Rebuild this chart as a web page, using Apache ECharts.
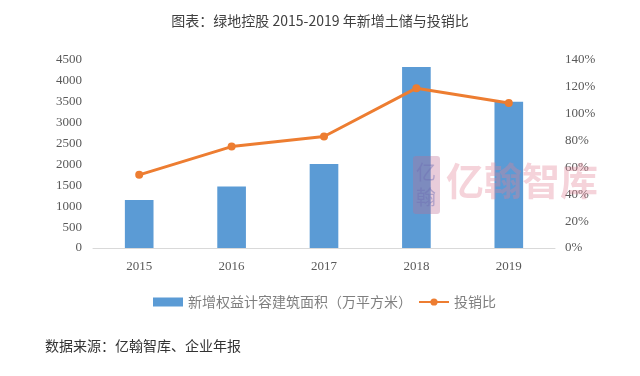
<!DOCTYPE html>
<html>
<head>
<meta charset="utf-8">
<script src="https://cdn.jsdelivr.net/npm/echarts@6/dist/echarts.min.js"></script>
<style>
  html, body { margin: 0; padding: 0; background: #fff; }
  #chart { width: 640px; height: 376px; }
</style>
</head>
<body>
<div id="chart"></div>
<script>
var years = ['2015', '2016', '2017', '2018', '2019']
var newLandArea = [1150, 1470, 2010, 4330, 3500]
var investSalesRatio = [54.5, 75.5, 83, 119, 108]
var leftTicks = { min: 0, max: 4500, interval: 500 }
var rightTicks = { min: 0, max: 140, interval: 20 }

var numFont = '"Liberation Serif", "DejaVu Serif", serif'
var cjkFont = '"Noto Sans CJK SC", sans-serif'

var chart = echarts.init(document.getElementById('chart'))
var option = {
  animation: false,
  title: {
    text: '图表：绿地控股 2015-2019 年新增土储与投销比',
    left: 'center',
    top: 9,
    textStyle: {
      fontSize: 14,
      fontWeight: 'normal',
      color: '#404040',
      fontFamily: cjkFont
    }
  },
  color: ['#5B9BD5', '#ED7D31'],
  grid: {
    left: 93,
    right: 85,
    top: 60,
    bottom: 128
  },
  legend: {
    top: 290,
    left: 148,
    itemGap: 6,
    itemWidth: 30,
    itemHeight: 9,
    textStyle: {
      fontSize: 14,
      color: '#7F7F7F',
      fontFamily: cjkFont
    },
    data: [
      { name: '新增权益计容建筑面积（万平方米）', icon: 'rect' },
      { name: '投销比' }
    ]
  },
  xAxis: {
    type: 'category',
    data: years,
    axisTick: { show: false },
    axisLine: { lineStyle: { color: '#D9D9D9', width: 1 } },
    axisLabel: {
      fontSize: 13,
      color: '#595959',
      fontFamily: numFont,
      margin: 12
    }
  },
  yAxis: [
    {
      type: 'value',
      min: leftTicks.min,
      max: leftTicks.max,
      interval: leftTicks.interval,
      splitLine: { show: false },
      axisLine: { show: false },
      axisTick: { show: false },
      axisLabel: {
        formatter: function (v) { return String(v) },
        fontSize: 13,
        color: '#595959',
        fontFamily: numFont,
        margin: 11
      }
    },
    {
      type: 'value',
      min: rightTicks.min,
      max: rightTicks.max,
      interval: rightTicks.interval,
      splitLine: { show: false },
      axisLine: { show: false },
      axisTick: { show: false },
      axisLabel: {
        formatter: '{value}%',
        fontSize: 13,
        color: '#595959',
        fontFamily: numFont,
        margin: 10
      }
    }
  ],
  graphic: [
    {
      type: 'rect',
      left: 413,
      top: 156,
      shape: { width: 27, height: 58, r: 3 },
      style: { fill: 'rgba(190,110,150,0.35)' },
      z: 10
    },
    {
      type: 'text',
      left: 416,
      top: 160,
      style: {
        text: '亿\n翰',
        fontSize: 20,
        lineHeight: 25,
        fill: 'rgba(110,110,180,0.45)',
        fontFamily: cjkFont
      },
      z: 10
    },
    {
      type: 'text',
      left: 446,
      top: 162,
      style: {
        text: '亿翰智库',
        fontSize: 38,
        fontWeight: 'bold',
        fill: 'rgba(225,130,150,0.35)',
        fontFamily: cjkFont
      },
      z: 10
    },
    {
      type: 'text',
      left: 45,
      top: 339,
      style: {
        text: '数据来源：亿翰智库、企业年报',
        fontSize: 14,
        fill: '#333333',
        fontFamily: cjkFont
      }
    }
  ],
  series: [
    {
      name: '新增权益计容建筑面积（万平方米）',
      type: 'bar',
      barWidth: '31%',
      data: newLandArea,
      z: 2
    },
    {
      name: '投销比',
      type: 'line',
      yAxisIndex: 1,
      data: investSalesRatio,
      symbol: 'circle',
      symbolSize: 8,
      lineStyle: { width: 3 },
      z: 3
    }
  ]
}
chart.setOption(option)
</script>
</body>
</html>
